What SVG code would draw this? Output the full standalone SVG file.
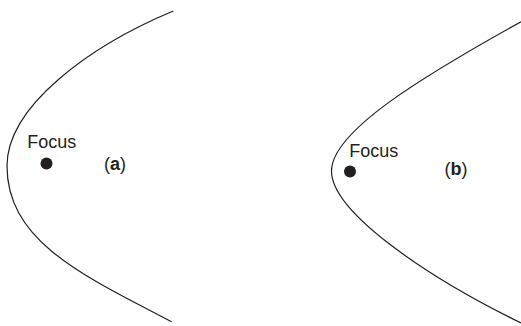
<svg xmlns="http://www.w3.org/2000/svg" width="521" height="326" viewBox="0 0 521 326">
  <style>
    .curve { fill: none; stroke: #231f20; stroke-width: 1.2; }
    .dot { fill: #231f20; }
    .lbl { font-family: "Liberation Sans", Arial, sans-serif; font-size: 18px; fill: #231f20; }
    .b { font-weight: bold; }
  </style>
  <rect width="521" height="326" fill="#ffffff"/>
  <g id="connectors">
    <path id="curve-a" class="curve" d="M173.3,11 C90.2,45.65 7,106 7,166 C7,241 82.9,275.8 171.7,321.7"/>
    <path id="curve-b" class="curve" d="M521,21.7 C424.9,75.1 331.5,131 331.5,171 C331.5,211 422.2,274.6 521,323"/>
  </g>
  <g id="panel-a">
    <circle id="focus-a" class="dot" cx="46.5" cy="163.5" r="6"/>
    <text class="lbl" x="27.3" y="148">Focus</text>
    <text class="lbl" x="104" y="170">(<tspan class="b">a</tspan>)</text>
  </g>
  <g id="panel-b">
    <circle id="focus-b" class="dot" cx="350" cy="171.5" r="6"/>
    <text class="lbl" x="349.3" y="157">Focus</text>
    <text class="lbl" x="444.5" y="175">(<tspan class="b">b</tspan>)</text>
  </g>
</svg>
